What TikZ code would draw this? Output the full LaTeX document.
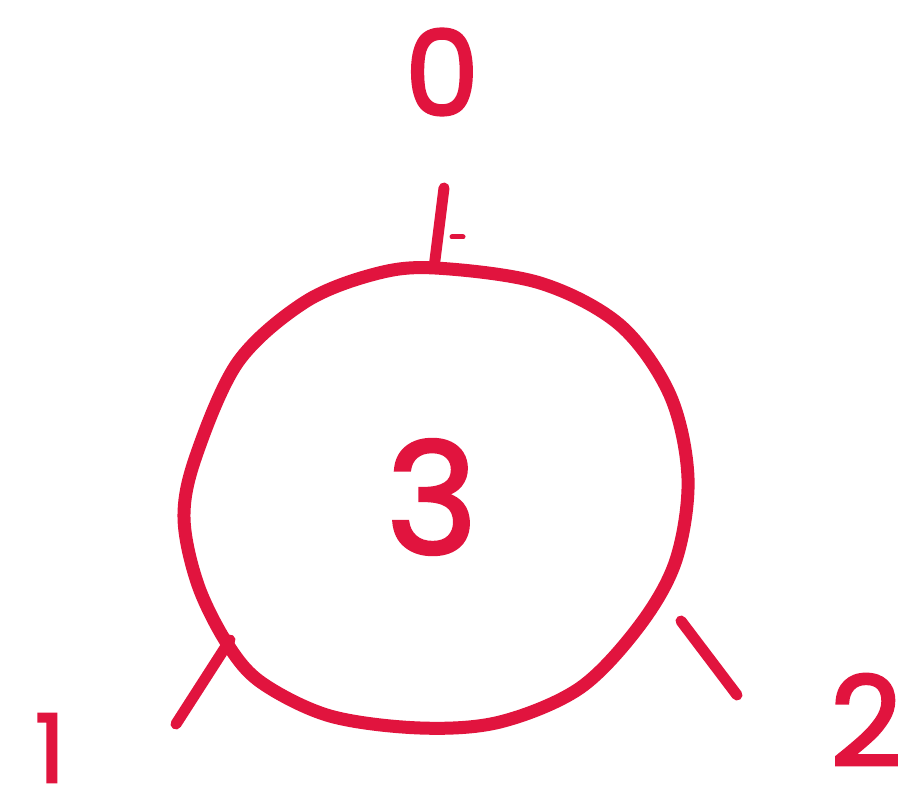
\documentclass[tikz,border=0pt]{standalone}
\usepackage{fontspec}
\setmainfont{Poppins}
\newfontfamily\penfont{Poppins}[FakeBold=2.2]
\definecolor{pen}{RGB}{225,20,62}
\begin{document}
\begin{tikzpicture}[x=1pt,y=-1pt,
  stroke/.style={draw=pen,line width=13pt,line cap=round,line join=round},
  digit/.style={text=pen,inner sep=0pt,font=#1}]
\useasboundingbox[fill=white] (0,0) rectangle (906,794);
% hand-drawn circle
\draw[stroke] plot[smooth cycle,tension=0.55] coordinates {
  (435,268) (540,283) (620,325) (670,395) (688,478) (676,560) (640,625)
  (580,688) (500,722) (420,728) (330,716) (262,683) (228,645) (198,585)
  (184,518) (196,456) (238,362) (305,302) (375,274)};
% ticks
\coordinate (t0a) at (434,268); \coordinate (t0b) at (444,188);
\coordinate (t1a) at (230,640); \coordinate (t1b) at (176,724);
\coordinate (t2a) at (681,621); \coordinate (t2b) at (737,695);
\draw[stroke,line width=11pt] (t0a) -- (t0b);
\draw[draw=pen,line width=5pt,line cap=round] (452,237) -- (463,237);
\draw[stroke,line width=11pt] (t1a) -- (t1b);
\draw[stroke,line width=11pt] (t2a) -- (t2b);
% labels
\node[digit={\penfont\fontsize{118}{118}\selectfont}] (l0) at (442,72) {0};
\node[digit={\penfont\fontsize{155}{155}\selectfont}] (l3) at (432,497) {3};
\node[digit={\penfont\fontsize{95}{95}\selectfont}] (l1) at (50,748) {1};
\node[digit={\penfont\fontsize{125}{125}\selectfont}] (l2) at (866,720) {2};
\end{tikzpicture}
\end{document}
